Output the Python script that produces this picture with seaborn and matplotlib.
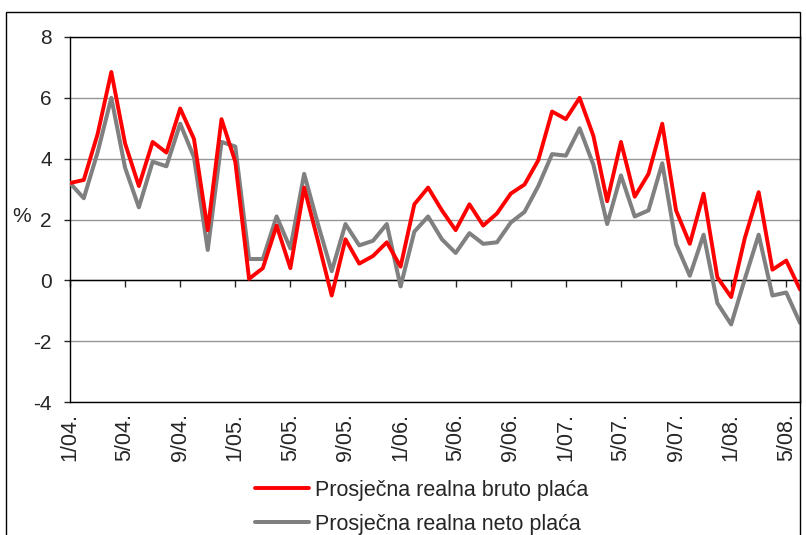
import matplotlib.pyplot as plt
import matplotlib.patches as mpatches
import numpy as np
import pandas as pd
import seaborn as sns

# monthly real wage growth, 1/04. - 6/08. (% vs same month of previous year)
months = [f'{m}/{y:02d}.' for y in range(4, 9) for m in range(1, 13)][:54]

bruto = [3.2, 3.3, 4.8, 6.85, 4.5, 3.1, 4.55, 4.2, 5.65, 4.65,
         1.65, 5.3, 3.9, 0.05, 0.4, 1.8, 0.4, 3.05, 1.3, -0.5,
         1.35, 0.55, 0.8, 1.25, 0.45, 2.5, 3.05, 2.3, 1.65, 2.5,
         1.8, 2.2, 2.85, 3.15, 3.95, 5.55, 5.3, 6.0, 4.75, 2.6,
         4.55, 2.75, 3.5, 5.15, 2.3, 1.2, 2.85, 0.1, -0.55, 1.4,
         2.9, 0.35, 0.65, -0.3]

neto = [3.2, 2.7, 4.2, 6.0, 3.7, 2.4, 3.9, 3.75, 5.15, 4.05,
        1.0, 4.55, 4.4, 0.7, 0.7, 2.1, 1.05, 3.5, 1.85, 0.3,
        1.85, 1.15, 1.3, 1.85, -0.2, 1.6, 2.1, 1.35, 0.9, 1.55,
        1.2, 1.25, 1.9, 2.25, 3.1, 4.15, 4.1, 5.0, 3.8, 1.85,
        3.45, 2.1, 2.3, 3.85, 1.2, 0.15, 1.5, -0.75, -1.45, 0.05,
        1.5, -0.5, -0.4, -1.4]

series_names = ['Prosječna realna bruto plaća', 'Prosječna realna neto plaća']

df = pd.DataFrame({'idx': np.arange(len(months)), 'mjesec': months,
                   'bruto': bruto, 'neto': neto})

sns.set_style('white')
plt.rcParams['font.family'] = ['Liberation Sans', 'DejaVu Sans']
plt.rcParams['axes.unicode_minus'] = False

fig = plt.figure(figsize=(8.06, 5.35), dpi=100)
ax = fig.add_axes([70 / 806, 1 - 402 / 535, 730 / 806, 365 / 535])

sns.lineplot(data=df, x='idx', y='bruto', color='#ff0000', lw=2.8, ax=ax,
             label=series_names[0], zorder=4)
sns.lineplot(data=df, x='idx', y='neto', color='#808080', lw=2.9, ax=ax,
             label=series_names[1], zorder=3)
handles, labels = ax.get_legend_handles_labels()
ax.get_legend().remove()

ax.set_xlim(0, len(months) - 1)
ax.set_ylim(-4, 8)
ax.set_yticks(range(-4, 9, 2))
ax.yaxis.grid(True, color='#969696', lw=1)
ax.set_axisbelow(True)
ax.set_xlabel('')
ax.set_ylabel('%', rotation=0, fontsize=15, va='center', ha='center')
ax.yaxis.set_label_coords(-0.066, 0.507)
ax.tick_params(axis='y', direction='out', length=4, width=1, pad=9,
               labelsize=15, left=True)

for s in ax.spines.values():
    s.set_color('black')
    s.set_linewidth(1)

# category axis crosses at zero, labels stay at the bottom
tick_pos = df['idx'][::4]
tick_lab = df['mjesec'][::4]
ax.spines['bottom'].set_position(('data', 0))
ax.set_xticks(tick_pos)
ax.tick_params(axis='x', direction='out', length=5, width=1,
               labelbottom=False, bottom=True)

sec = ax.secondary_xaxis('bottom')
sec.set_xticks(tick_pos, tick_lab, rotation=90)
sec.tick_params(length=0, pad=8, labelsize=15.5)
sec.spines['bottom'].set_color('black')
sec.spines['bottom'].set_linewidth(1)

fig.legend(handles=handles, labels=labels, loc='upper left',
           bbox_to_anchor=(255 / 806, 1 - 480 / 535), frameon=False,
           fontsize=15.5, handlelength=2.5, handletextpad=0.3,
           labelspacing=0.6, borderpad=0, borderaxespad=0)

# outer chart frame
fig.patches.append(mpatches.Rectangle((6 / 806, -0.1), 794 / 806, 1.1 - 12 / 535,
                                      transform=fig.transFigure, fill=False,
                                      edgecolor='black', lw=1))

fig.savefig('out.png', dpi=100)
